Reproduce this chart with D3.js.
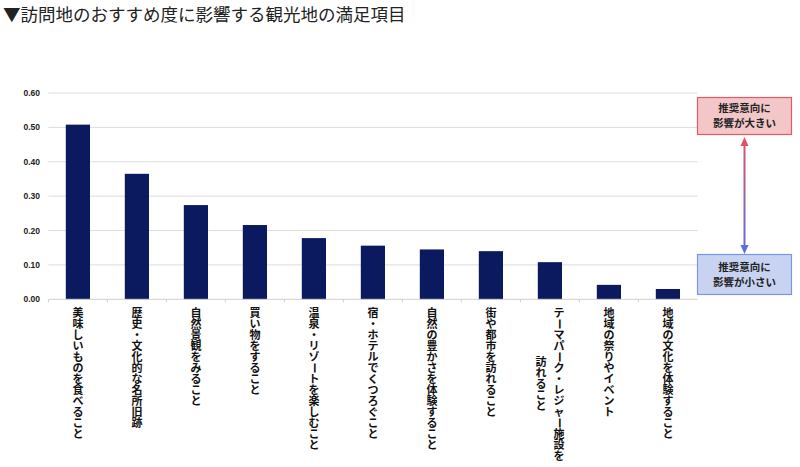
<!DOCTYPE html>
<meta charset="utf-8">
<title>訪問地のおすすめ度に影響する観光地の満足項目</title>
<body>
<script src="https://cdn.jsdelivr.net/npm/d3@7"></script>
<style>
html, body {
    margin: 0;
    background: #fff;
}
svg {
    display: block;
    font-family: "Noto Sans CJK JP", "Noto Sans", sans-serif;
}
.cat {
    font-size: 11px;
    font-weight: bold;
    fill: #111;
}
</style>
<script>
var width = 800,
    height = 467;

var title = "▼訪問地のおすすめ度に影響する観光地の満足項目";

var categories = [
    "美味しいものを食べること",
    "歴史・文化的な名所旧跡",
    "自然景観をみること",
    "買い物をすること",
    "温泉・リゾートを楽しむこと",
    "宿・ホテルでくつろぐこと",
    "自然の豊かさを体験すること",
    "街や都市を訪れること",
    "テーマパーク・レジャー施設を訪れること",
    "地域の祭りやイベント",
    "地域の文化を体験すること"
];

// labels that Excel broke into two columns
var labelLines = {
    "テーマパーク・レジャー施設を訪れること": ["テーマパーク・レジャー施設を", "訪れること"]
};

var values = [0.508, 0.365, 0.274, 0.216, 0.178, 0.156, 0.145, 0.140, 0.108, 0.042, 0.030];

var yTicks = [0, 0.1, 0.2, 0.3, 0.4, 0.5, 0.6];

var highLabel = ["推奨意向に", "影響が大きい"],
    lowLabel = ["推奨意向に", "影響が小さい"];

var plotLeft = 48.4,
    plotRight = 697.4,
    plotTop = 93,
    plotBottom = 299.3;

var svg = d3.select("body").append("svg")
    .attr("width", width)
    .attr("height", height);

svg.append("text")
    .attr("x", 3)
    .attr("y", 21)
    .attr("font-size", 17.5)
    .attr("fill", "#222")
    .text(title);

var x = d3.scaleBand()
    .domain(categories)
    .range([plotLeft, plotRight])
    .paddingInner(0.59)
    .paddingOuter(0.295);

var bands = d3.scaleBand()
    .domain(categories)
    .range([plotLeft, plotRight]);

var y = d3.scaleLinear()
    .domain([0, 0.6])
    .range([plotBottom, plotTop]);

// grid lines
svg.append("g")
    .selectAll("line")
    .data(yTicks.slice(1))
    .enter().append("line")
    .attr("x1", plotLeft)
    .attr("x2", plotRight)
    .attr("y1", function(d) { return y(d); })
    .attr("y2", function(d) { return y(d); })
    .attr("stroke", "#dcdcdc")
    .attr("stroke-width", 1);

// y labels
svg.append("g")
    .selectAll("text")
    .data(yTicks)
    .enter().append("text")
    .attr("x", 40)
    .attr("y", function(d) { return y(d); })
    .attr("dy", "0.35em")
    .attr("text-anchor", "end")
    .attr("font-family", "'Liberation Sans', Arial, sans-serif")
    .attr("font-size", 8.5)
    .attr("font-weight", "bold")
    .attr("fill", "#222")
    .text(function(d) { return d3.format(".2f")(d); });

// bars
svg.append("g")
    .selectAll("rect")
    .data(values)
    .enter().append("rect")
    .attr("x", function(d, i) { return x(categories[i]); })
    .attr("width", x.bandwidth())
    .attr("y", function(d) { return y(d); })
    .attr("height", function(d) { return y(0) - y(d); })
    .attr("fill", "#0b1a5e");

// x axis line with ticks between categories
svg.append("line")
    .attr("x1", plotLeft)
    .attr("x2", plotRight)
    .attr("y1", plotBottom)
    .attr("y2", plotBottom)
    .attr("stroke", "#cfcfcf");

svg.append("g")
    .selectAll("line")
    .data(categories)
    .enter().append("line")
    .attr("x1", function(d) { return bands(d); })
    .attr("x2", function(d) { return bands(d); })
    .attr("y1", plotBottom)
    .attr("y2", plotBottom + 3)
    .attr("stroke", "#cfcfcf");

// vertical category labels, one glyph per cell so the column stays even
var step = 11,
    colW = 18,
    labelTop = 307.5;

function column(g, text, cx, y0) {
    var chars = Array.from(text);
    g.selectAll(null)
        .data(chars)
        .enter().append("text")
        .attr("class", "cat")
        .attr("x", cx)
        .attr("y", function(c, i) { return y0 + (i + 0.5) * step; })
        .attr("dy", "0.36em")
        .attr("text-anchor", "middle")
        .attr("transform", function(c, i) {
            if (c === "ー") return "rotate(90," + cx + "," + (y0 + (i + 0.5) * step) + ")";
            return null;
        })
        .text(function(c) { return c; });
    return chars.length * step;
}

var cats = svg.append("g")
    .selectAll("g")
    .data(categories)
    .enter().append("g");

cats.each(function(d) {
    var g = d3.select(this),
        cx = bands(d) + bands.bandwidth() / 2,
        lines = labelLines[d] || [d],
        n = lines.length;
    var len = column(g, lines[0], cx + (n - 1) * colW / 2, labelTop);
    if (n > 1) {
        var len2 = Array.from(lines[1]).length * step;
        column(g, lines[1], cx - (n - 1) * colW / 2, labelTop + (len - len2) / 2);
    }
});

// annotation on the right
var defs = svg.append("defs");

var grad = defs.append("linearGradient")
    .attr("id", "arrowGrad")
    .attr("gradientUnits", "userSpaceOnUse")
    .attr("x1", 0).attr("y1", 140)
    .attr("x2", 0).attr("y2", 253);
grad.append("stop").attr("offset", "0%").attr("stop-color", "#e0506a");
grad.append("stop").attr("offset", "100%").attr("stop-color", "#5b6fe0");

function note(y0, h, fill, stroke, lines) {
    svg.append("rect")
        .attr("x", 697.5)
        .attr("y", y0)
        .attr("width", 94)
        .attr("height", h)
        .attr("fill", fill)
        .attr("stroke", stroke)
        .attr("stroke-width", 1.2);
    svg.append("g")
        .selectAll("text")
        .data(lines)
        .enter().append("text")
        .attr("x", 744.5)
        .attr("y", function(d, i) { return y0 + h / 2 + (i - 0.5) * 15; })
        .attr("dy", "0.35em")
        .attr("text-anchor", "middle")
        .attr("font-size", 10.5)
        .attr("font-weight", "bold")
        .attr("fill", "#222")
        .text(function(d) { return d; });
}

note(97.5, 37, "#f3c6c8", "#e05a6a", highLabel);
note(254.5, 40, "#c8d3f2", "#7b95de", lowLabel);

var ax = 744.5;
svg.append("line")
    .attr("x1", ax).attr("x2", ax)
    .attr("y1", 144).attr("y2", 248)
    .attr("stroke", "url(#arrowGrad)")
    .attr("stroke-width", 2);

svg.append("path")
    .attr("d", "M" + ax + ",137 L" + (ax - 4) + ",146 L" + (ax + 4) + ",146 Z")
    .attr("fill", "#e0506a");

svg.append("path")
    .attr("d", "M" + ax + ",254 L" + (ax - 4) + ",245 L" + (ax + 4) + ",245 Z")
    .attr("fill", "#5b6fe0");
</script>
